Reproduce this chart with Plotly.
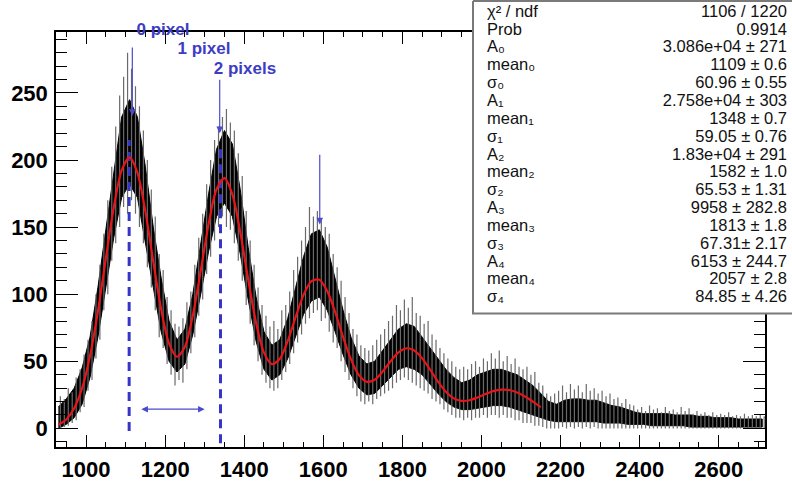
import plotly.graph_objects as go

# ---------------- data ----------------
# dense (black) band of the histogram error bars, sampled every 20 units from 930
band_x0, band_dx = 930, 20
band_lo = [0, 3, 8, 18, 38, 68, 105, 142, 172, 182,
           172, 140, 105, 72, 50, 42, 48, 70, 100, 132,
           158, 168, 158, 130, 96, 65, 44, 36, 40, 52,
           68, 85, 95, 98, 88, 72, 55, 40, 30, 25,
           26, 32, 38, 44, 46, 44, 40, 33, 26, 20,
           16, 14, 14, 15, 16, 17, 17, 16, 14, 12,
           10, 8, 6, 5, 5, 5, 5, 5, 5, 4,
           4, 4, 3, 3, 3, 2, 2, 2, 2, 2,
           1, 1, 1, 1, 1, 1, 1, 1, 1, 1]
band_hi = [16, 22, 30, 45, 68, 105, 148, 190, 232, 245,
           232, 195, 150, 112, 80, 66, 74, 100, 138, 175,
           208, 222, 212, 178, 135, 98, 72, 62, 66, 82,
           105, 128, 145, 148, 135, 112, 88, 68, 54, 48,
           50, 58, 66, 74, 78, 76, 68, 60, 52, 44,
           38, 34, 36, 40, 42, 44, 44, 42, 40, 36,
           32, 26, 20, 18, 21, 22, 22, 21, 21, 19,
           17, 16, 14, 12, 11, 11, 11, 11, 10, 10,
           10, 9, 9, 8, 8, 8, 7, 7, 7, 7]

# individual (grey) error-bar spikes, every 10 units from 935
spike_x0, spike_dx = 935, 10
spike_top = [24, 22, 30, 27, 38, 44, 55, 66, 80, 100,
             122, 145, 170, 195, 225, 248, 262, 280, 268, 255,
             240, 222, 200, 178, 158, 130, 118, 98, 88, 78,
             76, 82, 94, 102, 122, 142, 160, 182, 200, 215,
             225, 232, 238, 228, 222, 205, 188, 162, 140, 122,
             105, 92, 84, 76, 80, 74, 88, 92, 102, 118,
             128, 140, 150, 165, 158, 162, 155, 150, 145, 130,
             120, 110, 98, 86, 74, 70, 62, 60, 58, 62,
             66, 70, 74, 80, 84, 92, 88, 96, 90, 98,
             86, 84, 78, 80, 70, 66, 60, 56, 52, 50,
             46, 44, 46, 44, 48, 50, 46, 52, 50, 56,
             52, 58, 50, 54, 48, 52, 46, 44, 46, 40,
             42, 34, 32, 26, 24, 26, 28, 32, 27, 33,
             29, 32, 27, 33, 28, 30, 26, 28, 24, 26,
             22, 23, 19, 22, 18, 17, 14, 16, 13, 17,
             14, 15, 12, 16, 13, 14, 12, 16, 13, 15,
             11, 13, 11, 12, 10, 12, 10, 11, 10, 12,
             9, 10, 9, 11, 9, 10, 9, 10, 9]
spike_bot = [0, 1, 2, 4, 6, 12, 16, 28, 36, 52,
             66, 88, 100, 125, 138, 150, 165, 160, 170, 160,
             150, 138, 120, 105, 88, 68, 60, 48, 40, 32,
             36, 34, 44, 56, 68, 84, 96, 115, 128, 140,
             150, 158, 150, 148, 138, 125, 110, 92, 78, 62,
             50, 40, 34, 30, 28, 30, 36, 42, 48, 56,
             64, 70, 78, 82, 86, 88, 80, 82, 72, 64,
             60, 50, 42, 36, 30, 24, 20, 18, 20, 18,
             22, 24, 26, 28, 30, 34, 36, 38, 36, 34,
             32, 30, 28, 26, 22, 20, 18, 14, 12, 10,
             8, 8, 6, 8, 6, 8, 8, 10, 8, 10,
             10, 8, 10, 8, 8, 6, 6, 4, 4, 4,
             2, 2, 1, 0, 0, 0, 0, 1, 0, 1,
             0, 1, 0, 1, 0, 1, 0, 0, 0, 0,
             0, 0, 0, 0, 0, 0, 0, 0, 0, 0,
             0, 0, 0, 0, 0, 0, 0, 0, 0, 0,
             0, 0, 0, 0, 0, 0, 0, 0, 0, 0,
             0, 0, 0, 0, 0, 0, 0, 0, 0]

# red fit curve, read every 20 units from 930 to 2150
fit_x0, fit_dx = 930, 20
fit_y = [2.7, 6.7, 15.0, 30.0, 54.0, 87.2, 126.4, 164.5, 192.3, 202.0,
         190.5, 161.7, 124.4, 88.7, 63.3, 53.4, 60.9, 84.1, 117.5, 152.4,
         178.2, 186.5, 174.4, 146.2, 111.0, 78.6, 56.5, 47.9, 51.9, 65.2,
         82.9, 99.5, 109.8, 110.8, 102.3, 86.7, 68.1, 51.4, 39.7, 34.8,
         36.3, 42.3, 50.0, 56.6, 59.7, 58.0, 52.2, 43.8, 34.9, 27.3,
         22.4, 20.5, 21.0, 23.1, 25.6, 27.8, 28.9, 28.6, 26.8, 23.8,
         20.0, 15.8]

# blue dashed marker lines
dash_x = [1109, 1340]
dash_y0 = [-2, -11]
dash_y1 = [215, 208]

# blue arrows pointing at peaks
arrow_x = [1117, 1338, 1591]
arrow_from = [285, 261, 205]
arrow_to = [233, 220, 152]

# labels above the arrows (pixel positions of their centres in the picture)
arrow_labels = ["0 pixel", "1 pixel", "2 pixels"]
label_px = [163, 204, 245]
label_py = [31, 50, 70]

# double arrow
darrow_x = [1136, 1300]
darrow_y = 14.3

# stats box
stat_names = ["χ² / ndf", "Prob",
              "A₀", "mean₀", "σ₀",
              "A₁", "mean₁", "σ₁",
              "A₂", "mean₂", "σ₂",
              "A₃", "mean₃", "σ₃",
              "A₄", "mean₄", "σ₄"]
stat_values = ["1106 / 1220", "0.9914",
               "3.086e+04 ± 271", "1109 ± 0.6", "60.96 ± 0.55",
               "2.758e+04 ± 303", "1348 ± 0.7", "59.05 ± 0.76",
               "1.83e+04 ± 291", "1582 ± 1.0", "65.53 ± 1.31",
               "9958 ± 282.8", "1813 ± 1.8", "67.31± 2.17",
               "6153 ± 244.7", "2057 ± 2.8", "84.85 ± 4.26"]

# ---------------- figure ----------------
W, H = 792, 482
FL, FR, FT, FB = 56, 765, 32, 451          # frame edges in pixels

fig = go.Figure()

band_x = [band_x0 + i * band_dx for i in range(len(band_lo))]
fig.add_trace(go.Scatter(
    x=band_x + band_x[::-1], y=band_hi + band_lo[::-1],
    fill="toself", fillcolor="black", mode="lines",
    line=dict(color="black", width=1), hoverinfo="skip", showlegend=False))

sx, sy = [], []
for i, (t, b) in enumerate(zip(spike_top, spike_bot)):
    xv = spike_x0 + i * spike_dx
    sx += [xv, xv, None]
    sy += [b, t, None]
fig.add_trace(go.Scatter(x=sx, y=sy, mode="lines",
                         line=dict(color="#6a6a6a", width=1.2),
                         hoverinfo="skip", showlegend=False))

for xv, y0, y1 in zip(dash_x, dash_y0, dash_y1):
    fig.add_trace(go.Scatter(x=[xv, xv], y=[y0, y1], mode="lines",
                             line=dict(color="#3535c8", width=3, dash="9px,6px"),
                             hoverinfo="skip", showlegend=False))

fit_x = [fit_x0 + i * fit_dx for i in range(len(fit_y))]
fig.add_trace(go.Scatter(x=fit_x, y=fit_y, mode="lines",
                         line=dict(color="#e8141a", width=2.2, shape="spline", smoothing=0.8),
                         hoverinfo="skip", showlegend=False))

# --- overlay in pixel space (x2/y2 spans the whole figure) ---
box_x = [473, 473, 800, 800, 473]
box_y = [1, 316, 316, 1, 1]
fig.add_trace(go.Scatter(x=box_x, y=box_y, mode="lines", fill="toself",
                         fillcolor="white", line=dict(color="#7a7a7a", width=2),
                         xaxis="x2", yaxis="y2", hoverinfo="skip", showlegend=False))

row_py = [12.7 + 18.0 * i for i in range(len(stat_names))]
stat_font = dict(family="Liberation Sans", size=16.5, color="#111111")
fig.add_trace(go.Scatter(x=[487] * len(stat_names), y=row_py, text=stat_names,
                         mode="text", textposition="middle right", textfont=stat_font,
                         xaxis="x2", yaxis="y2", cliponaxis=False,
                         hoverinfo="skip", showlegend=False))
fig.add_trace(go.Scatter(x=[787] * len(stat_values), y=row_py, text=stat_values,
                         mode="text", textposition="middle left", textfont=stat_font,
                         xaxis="x2", yaxis="y2", cliponaxis=False,
                         hoverinfo="skip", showlegend=False))
fig.add_trace(go.Scatter(x=label_px, y=label_py,
                         text=["<b>%s</b>" % t for t in arrow_labels],
                         mode="text", textposition="middle center",
                         textfont=dict(family="Liberation Sans", size=17, color="#3c3cc4"),
                         xaxis="x2", yaxis="y2", cliponaxis=False,
                         hoverinfo="skip", showlegend=False))

annotations = []
for xv, y0, y1 in zip(arrow_x, arrow_from, arrow_to):
    annotations.append(dict(x=xv, y=y1, ax=xv, ay=y0, xref="x", yref="y",
                            axref="x", ayref="y", text="", showarrow=True,
                            arrowhead=2, arrowsize=1.1, arrowwidth=1.2,
                            arrowcolor="#4a4ad0"))
annotations.append(dict(x=darrow_x[1], y=darrow_y, ax=darrow_x[0], ay=darrow_y,
                        xref="x", yref="y", axref="x", ayref="y", text="",
                        showarrow=True, arrowhead=2, startarrowhead=2,
                        arrowside="end+start", arrowsize=1.1, startarrowsize=1.1,
                        arrowwidth=1.2, arrowcolor="#4a4ad0"))

axis_font = dict(family="Liberation Sans", size=22, color="black", weight="bold")
fig.update_layout(
    width=W, height=H,
    margin=dict(l=0, r=0, t=0, b=0),
    paper_bgcolor="white", plot_bgcolor="rgba(0,0,0,0)",
    annotations=annotations,
    xaxis=dict(domain=[FL / W, FR / W], anchor="y",
               range=[924, 2717], showgrid=False, zeroline=False,
               showline=True, linecolor="black", linewidth=1.5, mirror="allticks",
               ticks="inside", ticklen=13, tickwidth=1.2, tickcolor="black",
               tick0=0, dtick=200, tickfont=axis_font, ticklabelstandoff=2,
               minor=dict(dtick=50, tick0=0, ticks="inside", ticklen=6,
                          tickwidth=1, tickcolor="black")),
    yaxis=dict(domain=[(H - FB) / H, (H - FT) / H], anchor="x",
               range=[-14.05, 295.6], showgrid=False, zeroline=False,
               showline=True, linecolor="black", linewidth=1.5, mirror="allticks",
               ticks="inside", ticklen=22, tickwidth=1.2, tickcolor="black",
               tick0=0, dtick=50, tickfont=axis_font, ticklabelstandoff=2,
               minor=dict(dtick=10, tick0=0, ticks="inside", ticklen=11,
                          tickwidth=1, tickcolor="black")),
    xaxis2=dict(domain=[0, 1], anchor="y2", range=[0, W], visible=False,
                fixedrange=True),
    yaxis2=dict(domain=[0, 1], anchor="x2", range=[H, 0], visible=False,
                fixedrange=True),
)

fig.write_html("out.html")
